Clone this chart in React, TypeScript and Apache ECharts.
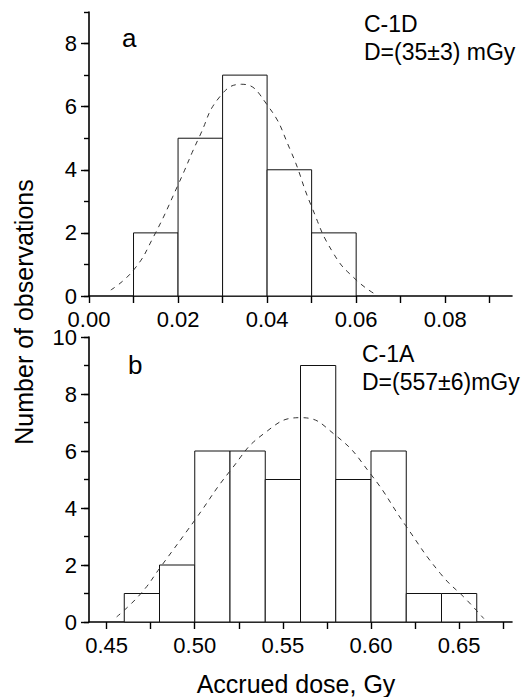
import React, { useEffect, useRef } from "react";
import * as echarts from "echarts";

// Panel a (C-1D)
const binStartsA = [0.01, 0.02, 0.03, 0.04, 0.05];
const countsA = [2, 5, 7, 4, 2];
const binWidthA = 0.01;
const fitXA = [0.0049, 0.01, 0.0145, 0.02, 0.0248, 0.0294, 0.0343, 0.04, 0.0452, 0.05, 0.0549, 0.06, 0.0646];
const fitYA = [0.19, 0.82, 1.88, 3.52, 5.05, 6.32, 6.71, 6.06, 4.63, 2.83, 1.35, 0.51, 0.03];
const xTicksA = [0, 0.01, 0.02, 0.03, 0.04, 0.05, 0.06, 0.07, 0.08, 0.09];
const xLabelsA = [0, 0.02, 0.04, 0.06, 0.08];
const yLabelsA = [0, 2, 4, 6, 8];

// Panel b (C-1A)
const binStartsB = [0.46, 0.48, 0.5, 0.52, 0.54, 0.56, 0.58, 0.6, 0.62, 0.64];
const countsB = [1, 2, 6, 6, 5, 9, 5, 6, 1, 1];
const binWidthB = 0.02;
const fitXB = [0.4557, 0.4693, 0.4806, 0.5, 0.5203, 0.5392, 0.56, 0.5799, 0.5997, 0.6196, 0.6394, 0.6545, 0.664];
const fitYB = [0.18, 0.99, 1.93, 3.57, 5.32, 6.61, 7.17, 6.55, 5.2, 3.39, 1.7, 0.76, 0.12];
const xTicksB = [0.45, 0.475, 0.5, 0.525, 0.55, 0.575, 0.6, 0.625, 0.65, 0.675];
const xLabelsB = [0.45, 0.5, 0.55, 0.6, 0.65];
const yLabelsB = [0, 2, 4, 6, 8, 10];

const FONT = "'Liberation Sans', Arial, sans-serif";

const buildBins = (starts: number[], counts: number[], w: number) =>
  starts.map((s, i) => [s, s + w, counts[i]]);

const renderBar = (params: any, api: any) => {
  const p0 = api.coord([api.value(0), api.value(2)]);
  const p1 = api.coord([api.value(1), 0]);
  return {
    type: "rect",
    shape: { x: p0[0], y: p0[1], width: p1[0] - p0[0], height: p1[1] - p0[1] },
    style: { fill: "#fff", stroke: "#111", lineWidth: 1 },
  };
};

function xAxisCfg(grid: number, min: number, max: number, ticks: number[], labels: number[]) {
  return {
    type: "value",
    gridIndex: grid,
    min,
    max,
    axisLine: { show: true, onZero: false, lineStyle: { color: "#000", width: 1.6 } },
    axisTick: { show: true, customValues: ticks, length: 7, lineStyle: { color: "#000", width: 1.4 } },
    axisLabel: {
      customValues: labels,
      formatter: (v: number) => v.toFixed(2),
      fontSize: 22,
      color: "#000",
      fontFamily: FONT,
      margin: 12,
      showMinLabel: true,
      showMaxLabel: true,
    },
    splitLine: { show: false },
  };
}

function yAxesCfg(grid: number, max: number, labels: number[]) {
  return [
    {
      type: "value",
      gridIndex: grid,
      min: 0,
      max,
      interval: 1,
      position: "left",
      axisLine: { show: true, onZero: false, lineStyle: { color: "#000", width: 1.6 } },
      axisTick: { show: true, length: 5, lineStyle: { color: "#000", width: 1.4 } },
      axisLabel: {
        customValues: labels,
        fontSize: 22,
        color: "#000",
        fontFamily: FONT,
        margin: 12,
      },
      splitLine: { show: false },
    },
    {
      type: "value",
      gridIndex: grid,
      min: 0,
      max,
      position: "left",
      offset: 0,
      axisLine: { show: false },
      axisTick: { show: true, customValues: labels, length: 8, lineStyle: { color: "#000", width: 1.4 } },
      axisLabel: { show: false },
      splitLine: { show: false },
    },
  ];
}

export default function App() {
  const ref = useRef<HTMLDivElement>(null);
  useEffect(() => {
    if (!ref.current) return;
    const chart = echarts.init(ref.current, null, { renderer: "svg" });
    const txt = (text: string, x: number, y: number, size: number, extra: any = {}) => ({
      type: "text",
      x,
      y,
      style: {
        text,
        fontSize: size,
        fontFamily: FONT,
        fill: "#000",
        align: "left",
        verticalAlign: "middle",
      },
      ...extra,
    });
    const yA = yAxesCfg(0, 9, yLabelsA);
    const yB = yAxesCfg(1, 10, yLabelsB);
    chart.setOption({
      animation: false,
      backgroundColor: "#fff",
      grid: [
        { left: 89, right: 16, top: 12, height: 284 },
        { left: 89, right: 16, top: 337, height: 285 },
      ],
      xAxis: [
        xAxisCfg(0, 0, 0.095, xTicksA, xLabelsA),
        xAxisCfg(1, 0.44, 0.68, xTicksB, xLabelsB),
      ],
      yAxis: [...yA, ...yB],
      series: [
        {
          type: "custom",
          xAxisIndex: 0,
          yAxisIndex: 0,
          renderItem: renderBar,
          encode: { x: [0, 1], y: 2 },
          data: buildBins(binStartsA, countsA, binWidthA),
          z: 1,
        },
        {
          type: "line",
          xAxisIndex: 0,
          yAxisIndex: 0,
          smooth: true,
          showSymbol: false,
          symbol: "none",
          lineStyle: { color: "#333", width: 1, type: [5, 5] },
          data: fitXA.map((x, i) => [x, fitYA[i]]),
          z: 2,
        },
        {
          type: "custom",
          xAxisIndex: 1,
          yAxisIndex: 2,
          renderItem: renderBar,
          encode: { x: [0, 1], y: 2 },
          data: buildBins(binStartsB, countsB, binWidthB),
          z: 1,
        },
        {
          type: "line",
          xAxisIndex: 1,
          yAxisIndex: 2,
          smooth: true,
          showSymbol: false,
          symbol: "none",
          lineStyle: { color: "#333", width: 1, type: [5, 5] },
          data: fitXB.map((x, i) => [x, fitYB[i]]),
          z: 2,
        },
      ],
      graphic: [
        txt("a", 122, 37.7, 26),
        txt("C-1D", 364, 24, 23),
        txt("D=(35±3) mGy", 364, 52.4, 23),
        txt("b", 128, 365, 26),
        txt("C-1A", 362, 354, 23),
        txt("D=(557±6)mGy", 362, 381.7, 23),
        {
          type: "text",
          x: 24,
          y: 312,
          rotation: Math.PI / 2,
          style: {
            text: "Number of observations",
            fontSize: 25,
            fontFamily: FONT,
            fill: "#000",
            align: "center",
            verticalAlign: "middle",
          },
        },
        {
          type: "text",
          x: 296,
          y: 684,
          style: {
            text: "Accrued dose, Gy",
            fontSize: 25,
            fontFamily: FONT,
            fill: "#000",
            align: "center",
            verticalAlign: "middle",
          },
        },
      ],
    });
    return () => chart.dispose();
  }, []);
  return (
    <div
      ref={ref}
      style={{ position: "fixed", left: 0, top: 0, width: 528, height: 697, background: "#fff" }}
    />
  );
}
